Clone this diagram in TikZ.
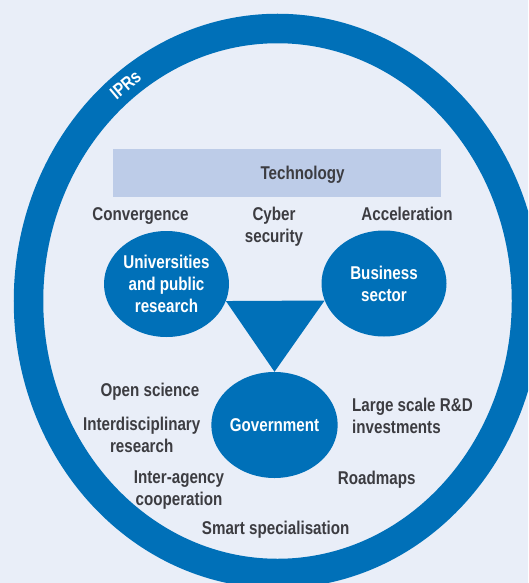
\documentclass[tikz,border=0pt]{standalone}
\usepackage{fontspec}
\setmainfont{Liberation Sans}[FakeStretch=0.82]
\usepackage{tikz}
\usetikzlibrary{shapes.geometric}
\definecolor{ringblue}{RGB}{0,112,184}
\definecolor{paleback}{RGB}{233,238,248}
\definecolor{techfill}{RGB}{189,204,232}
\definecolor{labelgrey}{RGB}{60,60,65}

\begin{document}
\begin{tikzpicture}[x=1pt,y=-1pt,
  actor/.style={ellipse,fill=ringblue,text=white,inner sep=0pt,
    minimum width=125pt,minimum height=106pt,align=center,
    font=\bfseries\fontsize{18.5}{22}\selectfont},
  lbl/.style={text=labelgrey,inner sep=0pt,align=center,anchor=base,
    font=\bfseries\fontsize{18.5}{22}\selectfont},
  techbar/.style={fill=techfill,inner sep=0pt,minimum width=328pt,minimum height=48pt}]
 \useasboundingbox (0,0) rectangle (528,583);
 \fill[paleback] (0,0) rectangle (528,583);
 \clip (0,0) rectangle (528,583);
 % outer ring
 \draw[ringblue,line width=29.5pt] (277.5,301) ellipse [x radius=249,y radius=272.5];
 \node[text=white,rotate=40,inner sep=0pt,font=\bfseries\fontsize{18.5}{20}\selectfont] (iprs) at (125.5,85) {IPRs};
 % technology bar
 \node[techbar] (tech) at (277,173) {};
 \node[lbl] (techlbl) at (302.5,179) {Technology};
 % the three actors
 \node[actor] (univ) at (166.5,284) {Universities\\and public\\research};
 \node[actor] (biz) at (384,283.5) {Business\\sector};
 \node[actor] (gov) at (274.5,425) {Government};
 \fill[ringblue] (univ.-16) -- (biz.-164) -- (gov.north) -- cycle;
 % labels round the actors (base = last line)
 \node[lbl] (conv) at (140.5,220) {Convergence};
 \node[lbl] (cyber) at (274,242.7) {Cyber\\security};
 \node[lbl] (accel) at (407,220) {Acceleration};
 \node[lbl] (open) at (150,396) {Open science};
 \node[lbl] (interdisc) at (141.7,452.7) {Interdisciplinary\\research};
 \node[lbl] (agency) at (179,505.3) {Inter-agency\\cooperation};
 \node[lbl] (smart) at (275.7,534) {Smart specialisation};
 \node[lbl] (roadmap) at (376.7,484) {Roadmaps};
 \node[lbl,align=left,anchor=base west] (largescale) at (352,433) {Large scale R\&D\\investments};
\end{tikzpicture}
\end{document}
